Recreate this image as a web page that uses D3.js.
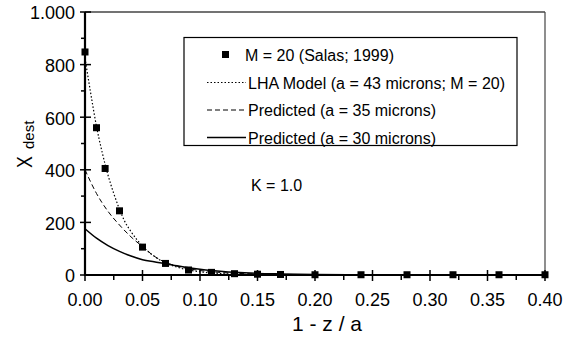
<!DOCTYPE html>
<html>
<head>
<meta charset="utf-8">
<script src="https://cdn.jsdelivr.net/npm/d3@7"></script>
<style>
  body { margin: 0; background: #fff; }
  text { font-family: "Liberation Sans", Arial, sans-serif; fill: #000; }
</style>
</head>
<body>
<div id="chart-area"></div>
<script>
// measured points, M = 20 (Salas; 1999)
var salasX = [0, 0.01, 0.0175, 0.03, 0.05, 0.07, 0.09, 0.11, 0.13, 0.15, 0.17, 0.20, 0.24, 0.28, 0.32, 0.36, 0.40]
var salasY = [848, 560, 405, 244, 106, 44, 19, 10, 5, 3, 2, 1, 1, 1, 1, 1, 1]

// LHA model (a = 43 microns; M = 20), dotted
var lhaX = [0, 0.005, 0.01, 0.015, 0.02, 0.025, 0.03, 0.035, 0.04, 0.05, 0.06, 0.07, 0.08, 0.09, 0.10, 0.11, 0.12, 0.13, 0.15, 0.175, 0.20, 0.25, 0.30, 0.40]
var lhaY = [825, 690, 565, 465, 380, 310, 250, 200, 165, 110, 72, 46, 30, 19, 12, 8, 5, 3, 2, 1, 0.5, 0.2, 0.1, 0]

// Predicted (a = 35 microns), dashed
var p35X = [0, 0.01, 0.02, 0.03, 0.04, 0.05, 0.06, 0.07, 0.08, 0.09, 0.10, 0.12, 0.14, 0.16, 0.20, 0.25, 0.30, 0.40]
var p35Y = [400, 310, 242, 190, 145, 108, 72, 48, 34, 24, 17, 9, 5, 3, 1.5, 0.5, 0.2, 0]

// Predicted (a = 30 microns), solid
var p30X = [0, 0.01, 0.02, 0.03, 0.04, 0.05, 0.06, 0.07, 0.08, 0.09, 0.10, 0.11, 0.12, 0.13, 0.15, 0.17, 0.20, 0.25, 0.30, 0.40]
var p30Y = [176, 140, 112, 90, 72, 58, 50, 43, 35, 28, 22, 17, 13, 10, 6, 4, 2, 1, 0.5, 0]

var xTicks = [0, 0.05, 0.10, 0.15, 0.20, 0.25, 0.30, 0.35, 0.40]
var xMinor = [0.025, 0.075, 0.125, 0.175, 0.225, 0.275, 0.325, 0.375]
var yTicks = [0, 200, 400, 600, 800, 1000]
var yLabels = ["0", "200", "400", "600", "800", "1.000"]
var yMinor = [100, 300, 500, 700, 900]

var legendNames = ["M = 20 (Salas; 1999)", "LHA Model (a = 43 microns; M = 20)", "Predicted (a = 35 microns)", "Predicted (a = 30 microns)"]

var svg = d3.select("#chart-area").append("svg")
    .attr("width", 578)
    .attr("height", 338)

var x = d3.scaleLinear().domain([0, 0.40]).range([85, 545])
var y = d3.scaleLinear().domain([0, 1000]).range([275, 12])

function pts(xs, ys) {
    return xs.map(function(d, i){ return [d, ys[i]] })
}

var line = d3.line()
    .x(function(d){ return x(d[0]) })
    .y(function(d){ return y(d[1]) })
    .curve(d3.curveMonotoneX)

// frame: top and right thin
svg.append("line").attr("x1", 85).attr("x2", 545).attr("y1", 12).attr("y2", 12)
    .attr("stroke", "#444").attr("stroke-width", 1.5)
svg.append("line").attr("x1", 545).attr("x2", 545).attr("y1", 12).attr("y2", 275)
    .attr("stroke", "#444").attr("stroke-width", 1.2)

// curves
svg.append("path").attr("d", line(pts(p30X, p30Y)))
    .attr("fill", "none").attr("stroke", "#000").attr("stroke-width", 1.5)
svg.append("path").attr("d", line(pts(p35X, p35Y)))
    .attr("fill", "none").attr("stroke", "#000").attr("stroke-width", 1)
    .attr("stroke-dasharray", "5,3")
svg.append("path").attr("d", line(pts(lhaX, lhaY)))
    .attr("fill", "none").attr("stroke", "#000").attr("stroke-width", 1.2)
    .attr("stroke-dasharray", "1.5,2")

// axes
var yAxis = svg.append("g")
yAxis.append("line").attr("x1", 85).attr("x2", 85).attr("y1", 12).attr("y2", 276)
    .attr("stroke", "#000").attr("stroke-width", 2.2)
yAxis.selectAll(".maj").data(yTicks).enter().append("line")
    .attr("x1", 80).attr("x2", 91)
    .attr("y1", function(d){ return y(d) }).attr("y2", function(d){ return y(d) })
    .attr("stroke", "#000").attr("stroke-width", 1.5)
yAxis.selectAll(".min").data(yMinor).enter().append("line")
    .attr("x1", 81).attr("x2", 85)
    .attr("y1", function(d){ return y(d) }).attr("y2", function(d){ return y(d) })
    .attr("stroke", "#000").attr("stroke-width", 1.5)
yAxis.selectAll("text").data(yTicks).enter().append("text")
    .attr("x", 75)
    .attr("y", function(d){ return y(d) + 1 })
    .attr("dy", "0.35em")
    .attr("text-anchor", "end")
    .style("font-size", "18px")
    .text(function(d, i){ return yLabels[i] })

var xAxis = svg.append("g")
xAxis.append("line").attr("x1", 84).attr("x2", 545).attr("y1", 275).attr("y2", 275)
    .attr("stroke", "#000").attr("stroke-width", 2)
xAxis.selectAll(".maj").data(xTicks).enter().append("line")
    .attr("x1", function(d){ return x(d) }).attr("x2", function(d){ return x(d) })
    .attr("y1", 270).attr("y2", 281)
    .attr("stroke", "#000").attr("stroke-width", 1.5)
xAxis.selectAll(".min").data(xMinor).enter().append("line")
    .attr("x1", function(d){ return x(d) }).attr("x2", function(d){ return x(d) })
    .attr("y1", 275).attr("y2", 280)
    .attr("stroke", "#000").attr("stroke-width", 1.5)
xAxis.selectAll("text").data(xTicks).enter().append("text")
    .attr("x", function(d){ return x(d) })
    .attr("y", 306)
    .attr("text-anchor", "middle")
    .style("font-size", "18px")
    .text(function(d){ return d3.format(".2f")(d) })

// markers
svg.selectAll(".sq").data(pts(salasX, salasY)).enter().append("rect")
    .attr("x", function(d){ return x(d[0]) - 3.5 })
    .attr("y", function(d){ return y(d[1]) - 3.5 })
    .attr("width", 7).attr("height", 7)
    .attr("fill", "#000")

// axis titles
svg.append("text").attr("x", 327).attr("y", 331)
    .attr("text-anchor", "middle").style("font-size", "21px")
    .text("1 - z / a")
svg.append("text").attr("transform", "translate(31.5,168) rotate(-90) scale(0.8,1)")
    .style("font-size", "22px").text("X")
svg.append("text").attr("transform", "translate(34,149) rotate(-90)")
    .style("font-size", "15px").text("dest")

// legend
var lg = svg.append("g")
lg.append("rect").attr("x", 184).attr("y", 37.5).attr("width", 333).attr("height", 108)
    .attr("fill", "#fff").attr("stroke", "#000").attr("stroke-width", 1.2)
var rowY = [54.5, 82.5, 110, 137.5]
lg.append("rect").attr("x", 222).attr("y", rowY[0] - 3.5).attr("width", 7).attr("height", 7).attr("fill", "#000")
var dashes = [null, "1.5,2", "5,3", null]
var widths = [0, 1.2, 1, 1.5]
for (var i = 1; i < 4; i++) {
    lg.append("line").attr("x1", 207).attr("x2", 246)
        .attr("y1", rowY[i]).attr("y2", rowY[i])
        .attr("stroke", "#000").attr("stroke-width", widths[i])
        .attr("stroke-dasharray", dashes[i])
}
lg.selectAll("text").data(legendNames).enter().append("text")
    .attr("x", function(d, i){ return i == 0 ? 245 : 248 })
    .attr("y", function(d, i){ return rowY[i] + 6 })
    .style("font-size", "16px")
    .text(function(d){ return d })

svg.append("text").attr("x", 251).attr("y", 190.5)
    .style("font-size", "16px").text("K = 1.0")
</script>
</body>
</html>
